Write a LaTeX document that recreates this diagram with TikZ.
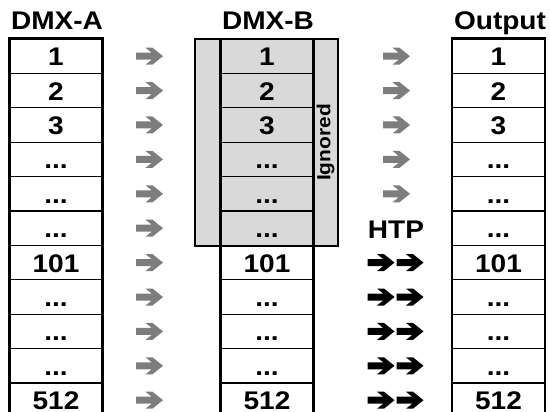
\documentclass[tikz,border=0pt]{standalone}
\usepackage{fontspec}
\setmainfont{Liberation Sans}[FakeStretch=1.1]
\definecolor{arrowgray}{RGB}{125,125,125}
\definecolor{boxgray}{RGB}{217,217,217}
\newcommand\ddd{...}
\begin{document}
\begin{tikzpicture}[x=1pt,y=-1pt,
  cell/.style={draw, line width=1.2pt, minimum width=92pt, minimum height=34.4pt,
    inner sep=0pt, text height=19pt, text depth=0pt,
    font=\bfseries\fontsize{25.5}{25.5}\selectfont},
  frame/.style={draw, line width=2.6pt},
  colhead/.style={anchor=base, inner sep=0pt, font=\bfseries\fontsize{25.5}{25.5}\selectfont},
  fatarrow/.pic={
    \path[pic actions] (-13.5,3.5) -- (2.2,3.5) -- (-4,8.5) -- (3,8.5) -- (13.5,0)
      -- (3,-8.5) -- (-4,-8.5) -- (2.2,-3.5) -- (-13.5,-3.5) -- cycle;
  },
  grayarrow/.style={fill=arrowgray},
  blackarrow/.style={fill=black},
]
\useasboundingbox (0,0) rectangle (550,412);

% shaded block of ignored DMX-B channels
\path[fill=boxgray] (195,39) rectangle (338,246);

% the three channel columns
\foreach \t [count=\i from 0] in {1,2,3,\ddd,\ddd,\ddd,101,\ddd,\ddd,\ddd,512} {
  \node[cell] (a\i) at (56,56.2+34.4*\i) {\t};
  \node[cell] (b\i) at (267,56.2+34.4*\i) {\t};
  \node[cell] (o\i) at (498.5,56.2+34.4*\i) {\t};
}

% thick column outlines
\draw[frame] (a0.north west) rectangle (a10.south east);
\draw[frame] (o0.north west) rectangle (o10.south east);
\draw[frame] (195,39) rectangle (338,246);
\draw[frame] (b0.north west) -- (b10.south west);
\draw[frame] (b0.north east) -- (b10.south east);

% column titles
\node[colhead] (ha) at (57,30) {DMX-A};
\node[colhead] (hb) at (268,30) {DMX-B};
\node[colhead] (ho) at (500,30) {Output};

\node[rotate=90, inner sep=0pt, font=\bfseries\fontsize{19}{19}\selectfont] (ign) at (325.5,142.5) {Ignored};

% DMX-A to DMX-B
\foreach \i in {0,...,10}
  \pic[grayarrow] at (149.5,56.2+34.4*\i) {fatarrow};

% DMX-B to output
\foreach \i in {0,...,4}
  \pic[grayarrow] at (396.5,56.2+34.4*\i) {fatarrow};
\node[colhead] (htp) at (396,238.5) {HTP};
\foreach \i in {6,...,10} {
  \pic[blackarrow] at (381,56.2+34.4*\i) {fatarrow};
  \pic[blackarrow] at (410,56.2+34.4*\i) {fatarrow};
}
\end{tikzpicture}
\end{document}
